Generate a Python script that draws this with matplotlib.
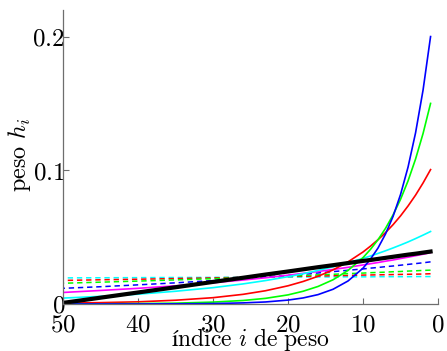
"""
Peso h_i de cada muestra en funcion del indice i, para varios filtros
de promediado exponencial y para el promediado lineal (negro).
"""

import matplotlib
matplotlib.use('Agg')
import matplotlib.pyplot as plt

# indices muestreados (1 = muestra mas reciente)
indices = [1, 2, 3, 4, 5, 6, 7, 8, 9, 10, 12, 14, 16, 18, 20, 23, 26, 30,
           35, 40, 45, 50]

# pesos de las curvas solidas
w_blue = [0.2000, 0.1600, 0.1280, 0.1024, 0.0819, 0.0655, 0.0524, 0.0419,
          0.0336, 0.0268, 0.0172, 0.0110, 0.0070, 0.0045, 0.0029, 0.0015,
          0.0008, 0.0003, 0.0001, 0.0000, 0.0000, 0.0000]
w_green = [0.1500, 0.1275, 0.1084, 0.0921, 0.0783, 0.0666, 0.0566, 0.0481,
           0.0409, 0.0347, 0.0251, 0.0181, 0.0131, 0.0095, 0.0068, 0.0042,
           0.0026, 0.0014, 0.0006, 0.0003, 0.0001, 0.0001]
w_red = [0.1005, 0.0905, 0.0814, 0.0733, 0.0659, 0.0593, 0.0534, 0.0481,
         0.0433, 0.0389, 0.0315, 0.0255, 0.0207, 0.0168, 0.0136, 0.0099,
         0.0072, 0.0047, 0.0028, 0.0016, 0.0010, 0.0006]
w_cyan = [0.0542, 0.0515, 0.0489, 0.0464, 0.0441, 0.0419, 0.0398, 0.0378,
          0.0359, 0.0341, 0.0308, 0.0278, 0.0251, 0.0226, 0.0204, 0.0175,
          0.0150, 0.0122, 0.0095, 0.0073, 0.0057, 0.0044]
w_magenta = [0.0384, 0.0372, 0.0361, 0.0350, 0.0340, 0.0329, 0.0320, 0.0310,
             0.0301, 0.0292, 0.0274, 0.0258, 0.0243, 0.0229, 0.0215, 0.0196,
             0.0179, 0.0159, 0.0136, 0.0117, 0.0101, 0.0086]

# pesos de las curvas discontinuas
wd_blue = [0.0315, 0.0308, 0.0302, 0.0296, 0.0290, 0.0284, 0.0279, 0.0273,
           0.0268, 0.0262, 0.0252, 0.0242, 0.0232, 0.0223, 0.0214, 0.0202,
           0.0190, 0.0175, 0.0158, 0.0143, 0.0129, 0.0117]
wd_green = [0.0253, 0.0251, 0.0248, 0.0246, 0.0243, 0.0241, 0.0238, 0.0236,
            0.0234, 0.0231, 0.0227, 0.0222, 0.0218, 0.0213, 0.0209, 0.0203,
            0.0197, 0.0189, 0.0180, 0.0171, 0.0163, 0.0155]
wd_red = [0.0226, 0.0224, 0.0223, 0.0222, 0.0221, 0.0220, 0.0219, 0.0218,
          0.0217, 0.0216, 0.0213, 0.0211, 0.0209, 0.0207, 0.0205, 0.0202,
          0.0199, 0.0195, 0.0190, 0.0185, 0.0181, 0.0176]
wd_cyan = [0.0205, 0.0205, 0.0205, 0.0204, 0.0204, 0.0204, 0.0204, 0.0204,
           0.0203, 0.0203, 0.0203, 0.0202, 0.0202, 0.0202, 0.0201, 0.0201,
           0.0200, 0.0199, 0.0198, 0.0197, 0.0196, 0.0195]

# promediado lineal
w_linear = [0.0392, 0.0384, 0.0376, 0.0369, 0.0361, 0.0353, 0.0345, 0.0337,
            0.0329, 0.0322, 0.0306, 0.0290, 0.0275, 0.0259, 0.0243, 0.0220,
            0.0196, 0.0165, 0.0125, 0.0086, 0.0047, 0.0008]

x_ticks = [50, 40, 30, 20, 10, 0]
y_ticks = [0, 0.1, 0.2]
y_tick_labels = ['$0$', '$0.1$', '$0.2$']

plt.rcParams['mathtext.fontset'] = 'cm'
plt.rcParams['font.family'] = 'serif'

axis_gray = '#6e6e6e'

fig = plt.figure(figsize=(4.47, 3.51), dpi=100)
ax = fig.add_axes([0.141, 0.134, 0.839, 0.838])

dash = (0, (3.5, 2.5))
for w, c in [(wd_cyan, '#00ffff'), (wd_red, '#ff0000'),
             (wd_green, '#00ff00'), (wd_blue, '#0000ff')]:
    ax.plot(indices, w, color=c, linewidth=1.1, linestyle=dash)

for w, c in [(w_magenta, '#ff00ff'), (w_cyan, '#00ffff'), (w_red, '#ff0000'),
             (w_green, '#00ff00'), (w_blue, '#0000ff')]:
    ax.plot(indices, w, color=c, linewidth=1.2)

ax.plot(indices, w_linear, color='black', linewidth=3.0)

ax.set_xlim(50, 0)
ax.set_ylim(0, 0.22)
ax.set_xticks(x_ticks)
ax.set_xticklabels(['$%d$' % t for t in x_ticks])
ax.set_yticks(y_ticks)
ax.set_yticklabels(y_tick_labels)

for side in ['top', 'right']:
    ax.spines[side].set_visible(False)
for side in ['left', 'bottom']:
    ax.spines[side].set_color(axis_gray)
    ax.spines[side].set_linewidth(0.9)

ax.tick_params(axis='both', direction='in', length=4, width=0.8,
               color=axis_gray, labelsize=18)
ax.tick_params(axis='x', pad=7)
ax.tick_params(axis='y', pad=-1.5)

ax.set_xlabel(r'$\mathrm{índice}\ i\ \mathrm{de\ peso}$', fontsize=17)
ax.set_ylabel(r'$\mathrm{peso}\ h_i$', fontsize=17.5)
ax.xaxis.set_label_coords(0.5, -0.076)
ax.yaxis.set_label_coords(-0.08, 0.507)

fig.savefig('out.png', dpi=100)
plt.close(fig)
